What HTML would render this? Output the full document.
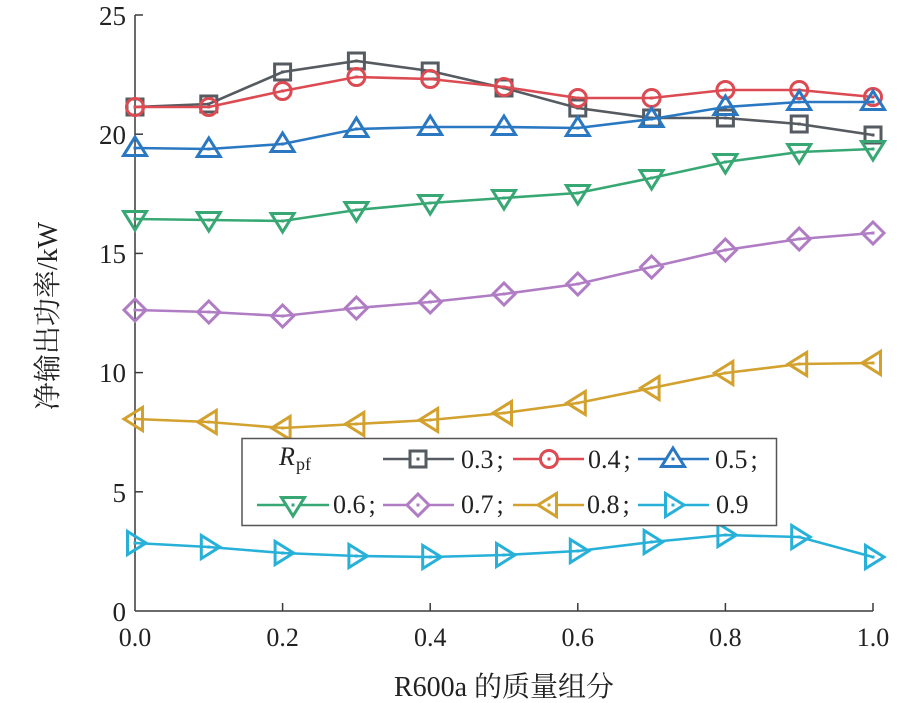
<!DOCTYPE html>
<html>
<head>
<meta charset="utf-8">
<style>
html,body{margin:0;padding:0;background:#fff;}
svg{display:block;}
text{font-family:"Liberation Serif","Noto Serif CJK SC","Noto Sans CJK SC",serif;fill:#222;}
</style>
</head>
<body>
<svg width="922" height="703" viewBox="0 0 922 703" xmlns="http://www.w3.org/2000/svg">

<!-- axes -->
<g stroke="#3a3a3a" stroke-width="1.5" fill="none">
  <line x1="135" y1="15" x2="135" y2="611"/>
  <line x1="135" y1="611" x2="873" y2="611"/>
  <line x1="135" y1="15" x2="143" y2="15"/>
  <line x1="135" y1="134.2" x2="143" y2="134.2"/>
  <line x1="135" y1="253.4" x2="143" y2="253.4"/>
  <line x1="135" y1="372.6" x2="143" y2="372.6"/>
  <line x1="135" y1="491.8" x2="143" y2="491.8"/>
  <line x1="282.6" y1="611" x2="282.6" y2="603"/>
  <line x1="430.2" y1="611" x2="430.2" y2="603"/>
  <line x1="577.8" y1="611" x2="577.8" y2="603"/>
  <line x1="725.4" y1="611" x2="725.4" y2="603"/>
  <line x1="873" y1="611" x2="873" y2="603"/>
</g>

<g font-size="27" text-anchor="end">
  <text x="126" y="25">25</text>
  <text x="126" y="144">20</text>
  <text x="126" y="263">15</text>
  <text x="126" y="382">10</text>
  <text x="126" y="502">5</text>
  <text x="126" y="621">0</text>
</g>
<g font-size="26" text-anchor="middle">
  <text x="135" y="646">0.0</text>
  <text x="282.6" y="646">0.2</text>
  <text x="430.2" y="646">0.4</text>
  <text x="577.8" y="646">0.6</text>
  <text x="725.4" y="646">0.8</text>
  <text x="873" y="646">1.0</text>
</g>

<text x="504" y="696" font-size="28" text-anchor="middle">R600a 的质量组分</text>
<text transform="translate(57,316) rotate(-90)" font-size="28" text-anchor="middle">净输出功率/kW</text>

<!-- grey 0.3 -->
<g stroke="#555b60" fill="none" stroke-width="2.6">
  <polyline points="135,107 208.8,104 282.6,72 356.4,61 430.2,71 504,88 577.8,108 651.6,118 725.4,118 799.2,124 873,135"/>
  <g stroke-width="3">
    <rect x="127" y="99" width="16" height="16"/>
    <rect x="200.8" y="96" width="16" height="16"/>
    <rect x="274.6" y="64" width="16" height="16"/>
    <rect x="348.4" y="53" width="16" height="16"/>
    <rect x="422.2" y="63" width="16" height="16"/>
    <rect x="496" y="80" width="16" height="16"/>
    <rect x="569.8" y="100" width="16" height="16"/>
    <rect x="643.6" y="110" width="16" height="16"/>
    <rect x="717.4" y="110" width="16" height="16"/>
    <rect x="791.2" y="116" width="16" height="16"/>
    <rect x="865" y="127" width="16" height="16"/>
  </g>
</g>
<g fill="#555b60">
  <rect x="133.5" y="105.5" width="3" height="3"/><rect x="207.3" y="102.5" width="3" height="3"/><rect x="281.1" y="70.5" width="3" height="3"/><rect x="354.9" y="59.5" width="3" height="3"/><rect x="428.7" y="69.5" width="3" height="3"/><rect x="502.5" y="86.5" width="3" height="3"/><rect x="576.3" y="106.5" width="3" height="3"/><rect x="650.1" y="116.5" width="3" height="3"/><rect x="723.9" y="116.5" width="3" height="3"/><rect x="797.7" y="122.5" width="3" height="3"/><rect x="871.5" y="133.5" width="3" height="3"/>
</g>

<!-- red 0.4 -->
<g stroke="#dc4a52" fill="none" stroke-width="2.6">
  <polyline points="135,107 208.8,107 282.6,91 356.4,77 430.2,79 504,87 577.8,98 651.6,98 725.4,90 799.2,90 873,97"/>
  <g stroke-width="3">
    <circle cx="135" cy="107" r="8.5"/><circle cx="208.8" cy="107" r="8.5"/><circle cx="282.6" cy="91" r="8.5"/><circle cx="356.4" cy="77" r="8.5"/><circle cx="430.2" cy="79" r="8.5"/><circle cx="504" cy="87" r="8.5"/><circle cx="577.8" cy="98" r="8.5"/><circle cx="651.6" cy="98" r="8.5"/><circle cx="725.4" cy="90" r="8.5"/><circle cx="799.2" cy="90" r="8.5"/><circle cx="873" cy="97" r="8.5"/>
  </g>
</g>
<g fill="#dc4a52">
  <rect x="133.5" y="105.5" width="3" height="3"/><rect x="207.3" y="105.5" width="3" height="3"/><rect x="281.1" y="89.5" width="3" height="3"/><rect x="354.9" y="75.5" width="3" height="3"/><rect x="428.7" y="77.5" width="3" height="3"/><rect x="502.5" y="85.5" width="3" height="3"/><rect x="576.3" y="96.5" width="3" height="3"/><rect x="650.1" y="96.5" width="3" height="3"/><rect x="723.9" y="88.5" width="3" height="3"/><rect x="797.7" y="88.5" width="3" height="3"/><rect x="871.5" y="95.5" width="3" height="3"/>
</g>

<!-- blue 0.5 -->
<g stroke="#2a78c2" fill="none" stroke-width="2.6">
  <polyline points="135,148 208.8,149 282.6,144 356.4,129 430.2,127 504,127 577.8,128 651.6,119 725.4,107 799.2,102 873,102"/>
  <g stroke-width="3">
    <path d="M135,137 L146.5,155.5 L123.5,155.5 Z"/>
    <path d="M208.8,138 L220.3,156.5 L197.3,156.5 Z"/>
    <path d="M282.6,133 L294.1,151.5 L271.1,151.5 Z"/>
    <path d="M356.4,118 L367.9,136.5 L344.9,136.5 Z"/>
    <path d="M430.2,116 L441.7,134.5 L418.7,134.5 Z"/>
    <path d="M504,116 L515.5,134.5 L492.5,134.5 Z"/>
    <path d="M577.8,117 L589.3,135.5 L566.3,135.5 Z"/>
    <path d="M651.6,108 L663.1,126.5 L640.1,126.5 Z"/>
    <path d="M725.4,96 L736.9,114.5 L713.9,114.5 Z"/>
    <path d="M799.2,91 L810.7,109.5 L787.7,109.5 Z"/>
    <path d="M873,91 L884.5,109.5 L861.5,109.5 Z"/>
  </g>
</g>
<g fill="#2a78c2">
  <rect x="133.5" y="146.5" width="3" height="3"/><rect x="207.3" y="147.5" width="3" height="3"/><rect x="281.1" y="142.5" width="3" height="3"/><rect x="354.9" y="127.5" width="3" height="3"/><rect x="428.7" y="125.5" width="3" height="3"/><rect x="502.5" y="125.5" width="3" height="3"/><rect x="576.3" y="126.5" width="3" height="3"/><rect x="650.1" y="117.5" width="3" height="3"/><rect x="723.9" y="105.5" width="3" height="3"/><rect x="797.7" y="100.5" width="3" height="3"/><rect x="871.5" y="100.5" width="3" height="3"/>
</g>

<!-- green 0.6 -->
<g stroke="#37a873" fill="none" stroke-width="2.6">
  <polyline points="135,219 208.8,220 282.6,221 356.4,210 430.2,203 504,198 577.8,193 651.6,178 725.4,162 799.2,152 873,149"/>
  <g stroke-width="3">
    <path d="M135,230 L146.5,211.5 L123.5,211.5 Z"/>
    <path d="M208.8,231 L220.3,212.5 L197.3,212.5 Z"/>
    <path d="M282.6,232 L294.1,213.5 L271.1,213.5 Z"/>
    <path d="M356.4,221 L367.9,202.5 L344.9,202.5 Z"/>
    <path d="M430.2,214 L441.7,195.5 L418.7,195.5 Z"/>
    <path d="M504,209 L515.5,190.5 L492.5,190.5 Z"/>
    <path d="M577.8,204 L589.3,185.5 L566.3,185.5 Z"/>
    <path d="M651.6,189 L663.1,170.5 L640.1,170.5 Z"/>
    <path d="M725.4,173 L736.9,154.5 L713.9,154.5 Z"/>
    <path d="M799.2,163 L810.7,144.5 L787.7,144.5 Z"/>
    <path d="M873,160 L884.5,141.5 L861.5,141.5 Z"/>
  </g>
</g>
<g fill="#37a873">
  <rect x="133.5" y="217.5" width="3" height="3"/><rect x="207.3" y="218.5" width="3" height="3"/><rect x="281.1" y="219.5" width="3" height="3"/><rect x="354.9" y="208.5" width="3" height="3"/><rect x="428.7" y="201.5" width="3" height="3"/><rect x="502.5" y="196.5" width="3" height="3"/><rect x="576.3" y="191.5" width="3" height="3"/><rect x="650.1" y="176.5" width="3" height="3"/><rect x="723.9" y="160.5" width="3" height="3"/><rect x="797.7" y="150.5" width="3" height="3"/><rect x="871.5" y="147.5" width="3" height="3"/>
</g>

<!-- purple 0.7 -->
<g stroke="#b07cc4" fill="none" stroke-width="2.6">
  <polyline points="135,310 208.8,312 282.6,316 356.4,308 430.2,302 504,294 577.8,284 651.6,267 725.4,250 799.2,239 873,233"/>
  <g stroke-width="3">
    <path d="M135,299 L146,310 L135,321 L124,310 Z"/>
    <path d="M208.8,301 L219.8,312 L208.8,323 L197.8,312 Z"/>
    <path d="M282.6,305 L293.6,316 L282.6,327 L271.6,316 Z"/>
    <path d="M356.4,297 L367.4,308 L356.4,319 L345.4,308 Z"/>
    <path d="M430.2,291 L441.2,302 L430.2,313 L419.2,302 Z"/>
    <path d="M504,283 L515,294 L504,305 L493,294 Z"/>
    <path d="M577.8,273 L588.8,284 L577.8,295 L566.8,284 Z"/>
    <path d="M651.6,256 L662.6,267 L651.6,278 L640.6,267 Z"/>
    <path d="M725.4,239 L736.4,250 L725.4,261 L714.4,250 Z"/>
    <path d="M799.2,228 L810.2,239 L799.2,250 L788.2,239 Z"/>
    <path d="M873,222 L884,233 L873,244 L862,233 Z"/>
  </g>
</g>
<g fill="#b07cc4">
  <rect x="133.5" y="308.5" width="3" height="3"/><rect x="207.3" y="310.5" width="3" height="3"/><rect x="281.1" y="314.5" width="3" height="3"/><rect x="354.9" y="306.5" width="3" height="3"/><rect x="428.7" y="300.5" width="3" height="3"/><rect x="502.5" y="292.5" width="3" height="3"/><rect x="576.3" y="282.5" width="3" height="3"/><rect x="650.1" y="265.5" width="3" height="3"/><rect x="723.9" y="248.5" width="3" height="3"/><rect x="797.7" y="237.5" width="3" height="3"/><rect x="871.5" y="231.5" width="3" height="3"/>
</g>

<!-- yellow 0.8 -->
<g stroke="#d2a12e" fill="none" stroke-width="2.6">
  <polyline points="135,419 208.8,422 282.6,428 356.4,424 430.2,420 504,413 577.8,403 651.6,388 725.4,373 799.2,364 873,363"/>
  <g stroke-width="3">
    <path d="M124,419 L142.5,407.5 L142.5,430.5 Z"/>
    <path d="M197.8,422 L216.3,410.5 L216.3,433.5 Z"/>
    <path d="M271.6,428 L290.1,416.5 L290.1,439.5 Z"/>
    <path d="M345.4,424 L363.9,412.5 L363.9,435.5 Z"/>
    <path d="M419.2,420 L437.7,408.5 L437.7,431.5 Z"/>
    <path d="M493,413 L511.5,401.5 L511.5,424.5 Z"/>
    <path d="M566.8,403 L585.3,391.5 L585.3,414.5 Z"/>
    <path d="M640.6,388 L659.1,376.5 L659.1,399.5 Z"/>
    <path d="M714.4,373 L732.9,361.5 L732.9,384.5 Z"/>
    <path d="M788.2,364 L806.7,352.5 L806.7,375.5 Z"/>
    <path d="M862,363 L880.5,351.5 L880.5,374.5 Z"/>
  </g>
</g>
<g fill="#d2a12e">
  <rect x="133.5" y="417.5" width="3" height="3"/><rect x="207.3" y="420.5" width="3" height="3"/><rect x="281.1" y="426.5" width="3" height="3"/><rect x="354.9" y="422.5" width="3" height="3"/><rect x="428.7" y="418.5" width="3" height="3"/><rect x="502.5" y="411.5" width="3" height="3"/><rect x="576.3" y="401.5" width="3" height="3"/><rect x="650.1" y="386.5" width="3" height="3"/><rect x="723.9" y="371.5" width="3" height="3"/><rect x="797.7" y="362.5" width="3" height="3"/><rect x="871.5" y="361.5" width="3" height="3"/>
</g>

<!-- cyan 0.9 -->
<g stroke="#27b0d8" fill="none" stroke-width="2.6">
  <polyline points="135,543 208.8,547 282.6,553 356.4,556 430.2,557 504,555 577.8,551 651.6,542 725.4,535 799.2,537 873,557"/>
  <g stroke-width="3">
    <path d="M146,543 L127.5,531.5 L127.5,554.5 Z"/>
    <path d="M219.8,547 L201.3,535.5 L201.3,558.5 Z"/>
    <path d="M293.6,553 L275.1,541.5 L275.1,564.5 Z"/>
    <path d="M367.4,556 L348.9,544.5 L348.9,567.5 Z"/>
    <path d="M441.2,557 L422.7,545.5 L422.7,568.5 Z"/>
    <path d="M515,555 L496.5,543.5 L496.5,566.5 Z"/>
    <path d="M588.8,551 L570.3,539.5 L570.3,562.5 Z"/>
    <path d="M662.6,542 L644.1,530.5 L644.1,553.5 Z"/>
    <path d="M736.4,535 L717.9,523.5 L717.9,546.5 Z"/>
    <path d="M810.2,537 L791.7,525.5 L791.7,548.5 Z"/>
    <path d="M884,557 L865.5,545.5 L865.5,568.5 Z"/>
  </g>
</g>
<g fill="#27b0d8">
  <rect x="133.5" y="541.5" width="3" height="3"/><rect x="207.3" y="545.5" width="3" height="3"/><rect x="281.1" y="551.5" width="3" height="3"/><rect x="354.9" y="554.5" width="3" height="3"/><rect x="428.7" y="555.5" width="3" height="3"/><rect x="502.5" y="553.5" width="3" height="3"/><rect x="576.3" y="549.5" width="3" height="3"/><rect x="650.1" y="540.5" width="3" height="3"/><rect x="723.9" y="533.5" width="3" height="3"/><rect x="797.7" y="535.5" width="3" height="3"/><rect x="871.5" y="555.5" width="3" height="3"/>
</g>

<!-- legend -->
<rect x="242" y="438.5" width="534.5" height="87" fill="#fff" stroke="#555" stroke-width="1.5"/>
<text x="279" y="465" font-size="26" font-style="italic">R</text>
<text x="296" y="470" font-size="18">pf</text>

<g fill="none" stroke-width="2.4">
  <line x1="383" y1="459" x2="454" y2="459" stroke="#555b60"/>
  <rect x="410" y="451" width="16" height="16" fill="#fff" stroke="#555b60" stroke-width="3"/>
  <line x1="513" y1="459" x2="584" y2="459" stroke="#dc4a52"/>
  <circle cx="549" cy="459" r="8.5" fill="#fff" stroke="#dc4a52" stroke-width="3"/>
  <line x1="638" y1="459" x2="709" y2="459" stroke="#2a78c2"/>
  <path d="M673,448 L684.5,466.5 L661.5,466.5 Z" fill="#fff" stroke="#2a78c2" stroke-width="3"/>
  <line x1="257" y1="505" x2="329" y2="505" stroke="#37a873"/>
  <path d="M293,516 L304.5,497.5 L281.5,497.5 Z" fill="#fff" stroke="#37a873" stroke-width="3"/>
  <line x1="383" y1="505" x2="454" y2="505" stroke="#b07cc4"/>
  <path d="M418,494 L429,505 L418,516 L407,505 Z" fill="#fff" stroke="#b07cc4" stroke-width="3"/>
  <line x1="513" y1="505" x2="584" y2="505" stroke="#d2a12e"/>
  <path d="M538,505 L556.5,493.5 L556.5,516.5 Z" fill="#fff" stroke="#d2a12e" stroke-width="3"/>
  <line x1="638" y1="505" x2="709" y2="505" stroke="#27b0d8"/>
  <path d="M684,505 L665.5,493.5 L665.5,516.5 Z" fill="#fff" stroke="#27b0d8" stroke-width="3"/>
</g>
<g>
  <rect x="416.5" y="457.5" width="3" height="3" fill="#555b60"/>
  <rect x="547.5" y="457.5" width="3" height="3" fill="#dc4a52"/>
  <rect x="671.5" y="457.5" width="3" height="3" fill="#2a78c2"/>
  <rect x="291.5" y="503.5" width="3" height="3" fill="#37a873"/>
  <rect x="416.5" y="503.5" width="3" height="3" fill="#b07cc4"/>
  <rect x="547.5" y="503.5" width="3" height="3" fill="#d2a12e"/>
  <rect x="671.5" y="503.5" width="3" height="3" fill="#27b0d8"/>
</g>
<g font-size="26">
  <text x="461" y="468">0.3<tspan dx="3">;</tspan></text>
  <text x="588" y="468">0.4<tspan dx="3">;</tspan></text>
  <text x="715" y="468">0.5<tspan dx="3">;</tspan></text>
  <text x="333" y="513">0.6<tspan dx="3">;</tspan></text>
  <text x="461" y="513">0.7<tspan dx="3">;</tspan></text>
  <text x="587" y="513">0.8<tspan dx="3">;</tspan></text>
  <text x="716" y="513">0.9</text>
</g>
</svg>
</body>
</html>
